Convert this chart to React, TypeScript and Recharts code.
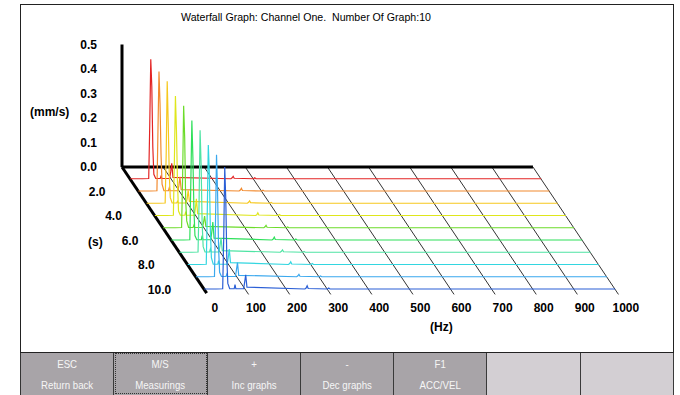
import React from 'react';
import { LineChart, Line, XAxis, YAxis, ReferenceLine, ReferenceDot } from 'recharts';

// frequency bins of each spectrum (Hz)
const FREQ_HZ = [0, 30, 45, 47.5, 50, 52.5, 55, 57.5, 62, 73, 75, 77, 96, 98.5, 101, 104, 245, 248, 250.5, 253, 300, 303, 306, 1000];

// one spectrum per second (mm/s), back (1 s) to front (10 s)
const SPEC_1 = [0.002, 0.002, 0.003, 0.22, 0.49, 0.38, 0.13, 0.02, 0.003, 0.003, 0.012, 0.003, 0.003, 0.03, 0.065, 0.008, 0.002, 0.006, 0.012, 0.004, 0.002, 0.006, 0.002, 0.002];
const SPEC_2 = [0.002, 0.002, 0.003, 0.25, 0.49, 0.36, 0.15, 0.03, 0.003, 0.003, 0.015, 0.003, 0.003, 0.025, 0.06, 0.008, 0.002, 0.006, 0.013, 0.004, 0.002, 0.005, 0.002, 0.002];
const SPEC_3 = [0.002, 0.002, 0.003, 0.2, 0.5, 0.33, 0.12, 0.025, 0.003, 0.003, 0.01, 0.003, 0.003, 0.02, 0.055, 0.01, 0.002, 0.006, 0.012, 0.004, 0.002, 0.005, 0.002, 0.002];
const SPEC_4 = [0.002, 0.002, 0.003, 0.23, 0.49, 0.35, 0.14, 0.02, 0.003, 0.003, 0.018, 0.003, 0.003, 0.03, 0.07, 0.01, 0.002, 0.005, 0.013, 0.004, 0.002, 0.006, 0.002, 0.002];
const SPEC_5 = [0.002, 0.002, 0.003, 0.21, 0.5, 0.37, 0.11, 0.03, 0.003, 0.003, 0.012, 0.003, 0.003, 0.025, 0.05, 0.008, 0.002, 0.006, 0.012, 0.004, 0.002, 0.005, 0.002, 0.002];
const SPEC_6 = [0.002, 0.002, 0.003, 0.24, 0.49, 0.34, 0.13, 0.02, 0.003, 0.003, 0.02, 0.003, 0.003, 0.035, 0.075, 0.01, 0.002, 0.006, 0.014, 0.004, 0.002, 0.006, 0.002, 0.002];
const SPEC_7 = [0.002, 0.002, 0.003, 0.2, 0.5, 0.36, 0.12, 0.025, 0.003, 0.003, 0.015, 0.003, 0.003, 0.03, 0.06, 0.009, 0.002, 0.006, 0.012, 0.004, 0.002, 0.005, 0.002, 0.002];
const SPEC_8 = [0.002, 0.002, 0.003, 0.22, 0.49, 0.38, 0.14, 0.03, 0.003, 0.003, 0.018, 0.003, 0.003, 0.03, 0.065, 0.01, 0.002, 0.006, 0.013, 0.004, 0.002, 0.006, 0.002, 0.002];
const SPEC_9 = [0.002, 0.002, 0.003, 0.23, 0.5, 0.35, 0.12, 0.02, 0.003, 0.003, 0.012, 0.003, 0.003, 0.03, 0.06, 0.008, 0.002, 0.006, 0.012, 0.004, 0.002, 0.005, 0.002, 0.002];
const SPEC_10 = [0.002, 0.002, 0.003, 0.21, 0.5, 0.37, 0.13, 0.025, 0.003, 0.003, 0.02, 0.003, 0.003, 0.03, 0.06, 0.01, 0.002, 0.006, 0.015, 0.004, 0.002, 0.006, 0.002, 0.002];

const SPECTRA = [SPEC_1, SPEC_2, SPEC_3, SPEC_4, SPEC_5, SPEC_6, SPEC_7, SPEC_8, SPEC_9, SPEC_10];
const TIMES_S = [1, 2, 3, 4, 5, 6, 7, 8, 9, 10];
const SERIES_COLORS = ['#e32424', '#f28a2e', '#f6c81e', '#dfe61c', '#6cdc2a', '#2ee05a', '#4fe4a4', '#33d6e0', '#3aa8ee', '#2b5fd6'];

const AMP_TICKS = [0, 0.1, 0.2, 0.3, 0.4, 0.5];
const FREQ_TICKS = [0, 100, 200, 300, 400, 500, 600, 700, 800, 900, 1000];
const TIME_TICKS = [2, 4, 6, 8, 10];

const BUTTON_KEYS = ['ESC', 'M/S', '+', '-', 'F1', '', ''];
const BUTTON_LABELS = ['Return back', 'Measurings', 'Inc graphs', 'Dec graphs', 'ACC/VEL', '', ''];

// oblique projection: each second shifts the spectrum right and down
const SHIFT_X = 20;
const SHIFT_Y = 0.05;
const LABEL_SHIFT = 226;
const project = (f: number, a: number, t: number) => ({ x: f + SHIFT_X * t, y: a - SHIFT_Y * t });

const FONT = '"Liberation Sans", Arial, sans-serif';
const bold = { fill: '#000', fontSize: 12, fontWeight: 'bold', fontFamily: FONT };

export default function App() {
  const series = TIMES_S.map((t, i) => FREQ_HZ.map((f, j) => project(f, SPECTRA[i][j], t)));

  return (
    <div style={{ position: 'absolute', left: 0, top: 0, width: 680, height: 395, background: '#fff', fontFamily: FONT, overflow: 'hidden' }}>
      <div style={{ position: 'absolute', left: 20, top: 4, width: 654, height: 349, border: '1px solid #222', boxSizing: 'border-box' }} />
      <div style={{ position: 'absolute', left: 106, top: 11, width: 400, textAlign: 'center', fontSize: 10.6, lineHeight: '12px', color: '#000' }}>
        Waterfall Graph: Channel One.&nbsp; Number Of Graph:10
      </div>
      <div style={{ position: 'absolute', left: 30, top: 105, fontSize: 12, fontWeight: 'bold', lineHeight: '14px' }}>(mm/s)</div>
      <div style={{ position: 'absolute', left: 88, top: 235, fontSize: 12, fontWeight: 'bold', lineHeight: '14px' }}>(s)</div>
      <div style={{ position: 'absolute', left: 430, top: 320, fontSize: 12, fontWeight: 'bold', lineHeight: '14px' }}>(Hz)</div>

      <div style={{ position: 'absolute', left: 0, top: 0 }}>
        <LineChart width={680} height={395} margin={{ top: 44.5, right: 52.5, bottom: 69, left: 62 }}>
          <XAxis
            type="number"
            dataKey="x"
            domain={[0, 1230]}
            ticks={FREQ_TICKS.map((f) => f + LABEL_SHIFT)}
            tickFormatter={(v: number) => String(Math.round(v - LABEL_SHIFT))}
            interval={0}
            height={30}
            axisLine={false}
            tickLine={false}
            tickSize={0}
            tickMargin={7}
            tick={bold}
            allowDataOverflow
          />
          <YAxis
            type="number"
            dataKey="y"
            domain={[-0.5265, 0.5]}
            ticks={AMP_TICKS}
            tickFormatter={(v: number) => v.toFixed(1)}
            interval={0}
            width={60}
            axisLine={false}
            tickLine={false}
            tickSize={0}
            tickMargin={25}
            tick={bold}
            allowDataOverflow
          />
          {FREQ_TICKS.filter((f) => f > 0).map((f) => (
            <ReferenceLine key={`g${f}`} segment={[project(f, 0, 0), project(f, 0, 10.4)]} stroke="#333" strokeWidth={1} ifOverflow="visible" />
          ))}
          <ReferenceLine segment={[project(0, 0, 0), project(0, 0, 10.3)]} stroke="#000" strokeWidth={3} ifOverflow="visible" />
          <ReferenceLine segment={[project(0, 0, 0), project(1000, 0, 0)]} stroke="#000" strokeWidth={3} ifOverflow="visible" />
          <ReferenceLine segment={[project(0, 0, 0), project(0, 0.5, 0)]} stroke="#000" strokeWidth={3} ifOverflow="visible" />
          {TIME_TICKS.map((t) => (
            <ReferenceDot
              key={`t${t}`}
              x={SHIFT_X * t}
              y={-SHIFT_Y * t}
              r={1}
              fill="none"
              stroke="none"
              ifOverflow="visible"
              label={{ value: t.toFixed(1), position: 'left', offset: 32, ...bold }}
            />
          ))}
          {series.map((data, i) => (
            <Line
              key={`s${i}`}
              data={data}
              dataKey="y"
              type="linear"
              stroke={SERIES_COLORS[i]}
              strokeWidth={1.2}
              dot={false}
              activeDot={false}
              isAnimationActive={false}
            />
          ))}
        </LineChart>
      </div>

      <div style={{ position: 'absolute', left: 20, top: 353, width: 654, height: 42, display: 'flex', borderLeft: '1px solid #333', boxSizing: 'border-box' }}>
        {BUTTON_KEYS.map((k, i) => (
          <div
            key={i}
            style={{
              flex: 1,
              background: i < 5 ? '#a8a4a8' : '#d3cfd3',
              borderRight: '1px solid #3a3a3a',
              boxSizing: 'border-box',
              color: '#f6f6f6',
              fontSize: 11.5,
              textAlign: 'center',
              position: 'relative',
            }}
          >
            {i === 1 && <div style={{ position: 'absolute', left: 1, right: 0, top: 0, bottom: 1, border: '1px dotted #333' }} />}
            <div style={{ position: 'absolute', left: 0, right: 0, top: 5, lineHeight: '13px', transform: 'scaleX(0.84)' }}>{k}</div>
            <div style={{ position: 'absolute', left: 0, right: 0, top: 26, lineHeight: '13px', transform: 'scaleX(0.84)' }}>{BUTTON_LABELS[i]}</div>
          </div>
        ))}
      </div>
    </div>
  );
}
